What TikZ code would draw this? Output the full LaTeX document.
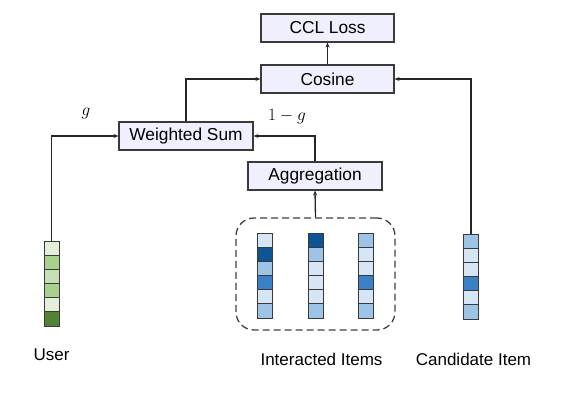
\documentclass[tikz,border=0pt]{standalone}
\usepackage{fontspec}
\setmainfont{Liberation Sans}
\usetikzlibrary{arrows.meta}
\definecolor{boxfill}{HTML}{EFEFFD}
\definecolor{edge}{HTML}{3A3A3A}
\definecolor{gA}{HTML}{E2F0D9}
\definecolor{gB}{HTML}{A9D18E}
\definecolor{gC}{HTML}{C5E0B4}
\definecolor{gD}{HTML}{548235}
\definecolor{bL}{HTML}{D6E6F5}
\definecolor{bM}{HTML}{9DC3E6}
\definecolor{bK}{HTML}{0D5496}
\definecolor{bD}{HTML}{3B7FC6}
\tikzset{
  opbox/.style={draw=edge, line width=1.1pt, fill=boxfill, minimum height=28pt, inner sep=0pt, font=\fontsize{17.3}{20}\selectfont},
  cell/.style={draw=edge, line width=0.9pt, minimum width=15pt, minimum height=14.17pt, inner sep=0pt, outer sep=0pt},
  lbl/.style={font=\fontsize{17}{20}\selectfont, inner sep=0pt},
  mlbl/.style={font=\fontsize{18.5}{21}\selectfont, inner sep=0pt},
  conn/.style={draw=black!85, line width=1.3pt, -{Stealth[length=5pt,width=4pt]}},
  grp/.style={draw=black!75, line width=1.3pt, dash pattern=on 7pt off 4pt, rounded corners=18pt, minimum width=159pt, minimum height=112pt, inner sep=0pt}
}
\begin{document}
\begin{tikzpicture}[x=1pt, y=-1pt]
\useasboundingbox (0,0) rectangle (569,401);
% operation boxes
\node[opbox, minimum width=133pt] (ccl) at (327.5,28) {CCL Loss};
\node[opbox, minimum width=133pt] (cos) at (327.5,79) {Cosine};
\node[opbox, minimum width=134pt] (ws) at (186,136) {Weighted Sum};
\node[opbox, minimum width=134pt] (agg) at (315,176) {Aggregation};
% group of interacted items
\node[grp] (grp) at (315.5,274) {};
% user vector
\foreach \c [count=\i] in {gA,gB,gC,gB,gA,gD}
  \node[cell, fill=\c] (u\i) at (51.5,{248.08+(\i-1)*14.17}) {};
% interacted item vectors
\foreach \c [count=\i] in {bL,bK,bM,bD,bL,bM}
  \node[cell, fill=\c] (a\i) at (264.5,{240.08+(\i-1)*14.17}) {};
\foreach \c [count=\i] in {bK,bM,bL,bL,bL,bM}
  \node[cell, fill=\c] (b\i) at (315.5,{240.08+(\i-1)*14.17}) {};
\foreach \c [count=\i] in {bM,bL,bL,bD,bL,bM}
  \node[cell, fill=\c] (c\i) at (365.5,{240.08+(\i-1)*14.17}) {};
% candidate item vector
\foreach \c [count=\i] in {bM,bL,bL,bD,bL,bM}
  \node[cell, fill=\c] (d\i) at (471,{241.08+(\i-1)*14.17}) {};
% labels
\node[lbl, anchor=base] (userlbl) at (51.5,360) {User};
\node[lbl, anchor=base] (intlbl) at (321.5,365) {Interacted Items};
\node[lbl, anchor=base] (candlbl) at (473.5,365) {Candidate Item};
\node[mlbl] (glbl) at (86,113) {$g$};
\node[mlbl] (omglbl) at (287,117) {$1-g$};
% connectors
\draw[conn] (u1.north) |- (ws.west);
\draw[conn] (agg.north) |- (ws.east);
\draw[conn] (grp.north) -- (agg.south);
\draw[conn] (ws.north) |- (cos.west);
\draw[conn] (d1.north) |- (cos.east);
\draw[conn] (cos.north) -- (ccl.south);
\end{tikzpicture}
\end{document}
